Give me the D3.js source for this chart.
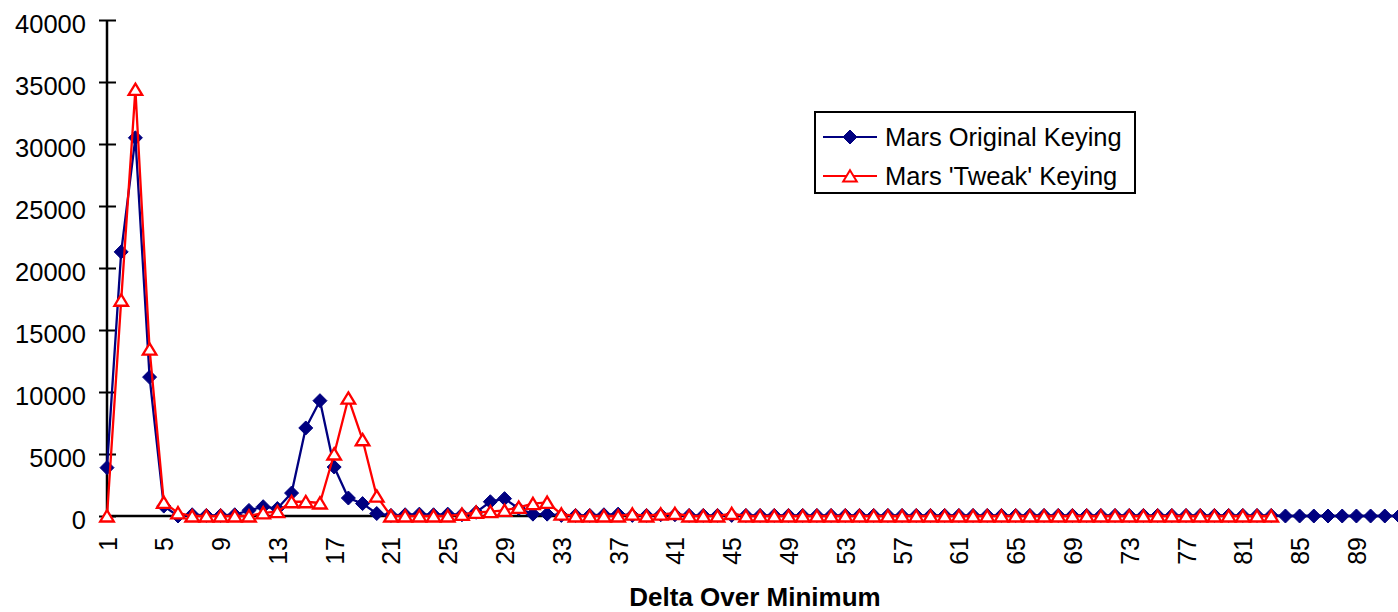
<!DOCTYPE html>
<html>
<head>
<meta charset="utf-8">
<script src="https://cdn.jsdelivr.net/npm/d3@7/dist/d3.min.js"></script>
<style>
  html, body { margin: 0; padding: 0; background: #fff; }
  svg { display: block; }
  text { font-family: "Liberation Sans", Arial, sans-serif; fill: #000; }
</style>
</head>
<body>
<svg id="chart" width="1398" height="612"></svg>
<script>
// ---- data ----
const categories = d3.range(1, 93); // 1 .. 92
const xTickLabels = [1, 5, 9, 13, 17, 21, 25, 29, 33, 37, 41, 45, 49, 53, 57, 61, 65, 69, 73, 77, 81, 85, 89];
const yTickValues = [0, 5000, 10000, 15000, 20000, 25000, 30000, 35000, 40000];
const seriesNames = ["Mars Original Keying", "Mars 'Tweak' Keying"];

const originalKeying = [
  3900, 21300, 30500, 11200, 800, 0, 100, 50, 50, 100,
  450, 750, 600, 1850, 7100, 9300, 3950, 1450, 1000, 200,
  50, 100, 150, 100, 150, 100, 300, 1150, 1400, 600,
  150, 150, 50, 50, 50, 100, 150, 50, 50, 100,
  100, 50, 50, 50, 50, 50, 50, 50, 50, 50,
  50, 50, 50, 50, 50, 50, 50, 50, 50, 50,
  50, 50, 50, 50, 50, 50, 50, 50, 50, 50,
  50, 50, 50, 50, 50, 50, 50, 50, 50, 50,
  50, 50, 50, 0, 0, 0, 0, 0, 0, 0,
  0, 0
];
const tweakKeying = [
  0, 17400, 34400, 13450, 1100, 250, 0, 0, 0, 0,
  0, 250, 350, 1150, 1150, 1050, 5000, 9500, 6150, 1600,
  0, 0, 0, 0, 0, 130, 300, 350, 450, 700,
  1000, 1100, 150, 0, 0, 0, 0, 150, 0, 150,
  200, 0, 0, 0, 200, 0, 0, 0, 0, 0,
  0, 0, 0, 0, 0, 0, 0, 0, 0, 0,
  0, 0, 0, 0, 0, 0, 0, 0, 0, 0,
  0, 0, 0, 0, 0, 0, 0, 0, 0, 0,
  0, 0, 0, null, null, null, null, null, null, null,
  null, null
];

// ---- layout ----
const svg = d3.select("#chart");
const plotLeft = 107, plotRight = 1399, plotTop = 20, plotBottom = 516;
const blue = "#000080", red = "#ff0000";

const x = d3.scalePoint().domain(categories).range([plotLeft, plotRight]).padding(0);
const y = d3.scaleLinear().domain([0, 40000]).range([plotBottom, plotTop]);

// Y axis
const yAxis = d3.axisLeft(y).tickValues(yTickValues).tickSize(0).tickFormat(d3.format("d"));
const gy = svg.append("g").attr("transform", `translate(${plotLeft},0)`).call(yAxis);
gy.select(".domain").remove();
gy.selectAll(".tick text")
  .attr("x", -21).attr("dy", "12.5")
  .attr("y", 0)
  .style("font-size", "25.5px")
  .attr("text-anchor", "end");
gy.selectAll(".tick").append("line")
  .attr("x1", -8).attr("x2", 9).attr("y1", 0).attr("y2", 0)
  .attr("stroke", "#000").attr("stroke-width", 2);
svg.append("line")
  .attr("x1", plotLeft).attr("x2", plotLeft)
  .attr("y1", y(40000)).attr("y2", y(0))
  .attr("stroke", "#000").attr("stroke-width", 2.5);

// X axis
const xAxis = d3.axisBottom(x).tickValues(xTickLabels).tickSize(0);
const gx = svg.append("g").attr("transform", `translate(0,${plotBottom})`).call(xAxis);
gx.select(".domain").remove();
gx.selectAll(".tick text")
  .attr("transform", "translate(0,21) rotate(-90)")
  .attr("x", 0).attr("y", 0).attr("dy", "0.36em")
  .attr("text-anchor", "end")
  .style("font-size", "25px");
svg.append("line")
  .attr("x1", plotLeft).attr("x2", 1398)
  .attr("y1", plotBottom).attr("y2", plotBottom)
  .attr("stroke", "#000").attr("stroke-width", 2.5);

// axis title
svg.append("text")
  .attr("x", 755).attr("y", 606)
  .attr("text-anchor", "middle")
  .style("font-size", "26px").style("font-weight", "bold")
  .text("Delta Over Minimum");

// markers
const diamondPath = "M0,-7L7,0L0,7L-7,0Z";
const trianglePath = "M0,-5.8L6.8,5.5L-6.8,5.5Z";

const lineGen = d3.line()
  .defined(d => d.v !== null)
  .x(d => x(d.c)).y(d => y(d.v));

const blueData = categories.map((c, i) => ({ c, v: originalKeying[i] }));
const redData = categories.map((c, i) => ({ c, v: tweakKeying[i] }));

const plot = svg.append("g");
// blue series
plot.append("path").datum(blueData)
  .attr("d", lineGen).attr("fill", "none")
  .attr("stroke", blue).attr("stroke-width", 2.3).attr("stroke-linejoin", "round");
plot.append("g").selectAll("path").data(blueData).join("path")
  .attr("d", diamondPath)
  .attr("transform", d => `translate(${x(d.c)},${y(d.v)})`)
  .attr("fill", blue).attr("stroke", blue).attr("stroke-width", 1);

// red series
const redDefined = redData.filter(d => d.v !== null);
plot.append("path").datum(redData)
  .attr("d", lineGen).attr("fill", "none")
  .attr("stroke", red).attr("stroke-width", 2.3).attr("stroke-linejoin", "round");
plot.append("g").selectAll("path").data(redDefined).join("path")
  .attr("d", trianglePath)
  .attr("transform", d => `translate(${x(d.c)},${y(d.v)})`)
  .attr("fill", "#fff").attr("stroke", red).attr("stroke-width", 2.3);

// legend
const lg = svg.append("g");
lg.append("rect")
  .attr("x", 815).attr("y", 112).attr("width", 320).attr("height", 81)
  .attr("fill", "#fff").attr("stroke", "#000").attr("stroke-width", 2);
const legendItems = [
  { name: seriesNames[0], color: blue, shape: diamondPath, fill: blue, y: 137 },
  { name: seriesNames[1], color: red, shape: trianglePath, fill: "#fff", y: 176 }
];
legendItems.forEach(it => {
  lg.append("line").attr("x1", 823).attr("x2", 877).attr("y1", it.y).attr("y2", it.y)
    .attr("stroke", it.color).attr("stroke-width", 2);
  lg.append("path").attr("d", it.shape).attr("transform", `translate(850,${it.y})`)
    .attr("fill", it.fill).attr("stroke", it.color).attr("stroke-width", it.fill === "#fff" ? 2 : 1);
  lg.append("text").attr("x", 885).attr("y", it.y + 9)
    .style("font-size", "25.5px").text(it.name);
});
</script>
</body>
</html>
